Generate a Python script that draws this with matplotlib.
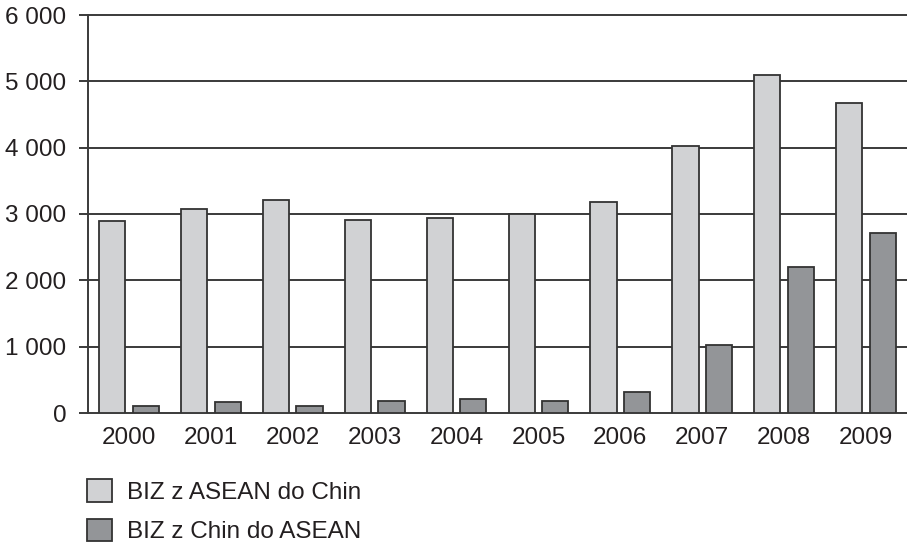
import matplotlib
matplotlib.use("Agg")
import matplotlib.pyplot as plt
import numpy as np
from matplotlib.ticker import FuncFormatter, MultipleLocator

years = ["2000", "2001", "2002", "2003", "2004", "2005", "2006", "2007", "2008", "2009"]
asean_to_china = [2900, 3075, 3215, 2905, 2935, 2995, 3180, 4025, 5095, 4680]
china_to_asean = [105, 165, 100, 175, 215, 175, 310, 1025, 2200, 2715]
labels = ["BIZ z ASEAN do Chin", "BIZ z Chin do ASEAN"]

plt.rcParams['font.family'] = ['Liberation Sans', 'DejaVu Sans']
text_color = "#231f20"
grid_color = "#3a3a3a"
fs = 17.5

fig = plt.figure(figsize=(9.07, 5.46), dpi=100)
ax = fig.add_axes([88/907, 1-413/546, 1-88/907, (413-15)/546])

x = np.arange(len(years))
w = 0.32
b1 = ax.bar(x - 0.205, asean_to_china, w, color="#d1d2d4", edgecolor="#333333", linewidth=1.3, zorder=3, label=labels[0])
b2 = ax.bar(x + 0.205, china_to_asean, w, color="#939598", edgecolor="#333333", linewidth=1.3, zorder=3, label=labels[1])

ax.set_xlim(-0.5, len(years) - 0.5)
ax.set_ylim(0, 6000)
ax.yaxis.set_major_locator(MultipleLocator(1000))
ax.yaxis.set_major_formatter(FuncFormatter(lambda v, p: f"{int(v):,}".replace(",", " ")))
for v in range(0, 6001, 1000):
    ax.axhline(v, color=grid_color, linewidth=1.4, zorder=1, clip_on=False)

for s in ["top", "right", "bottom"]:
    ax.spines[s].set_visible(False)
ax.spines["left"].set_color(grid_color)
ax.spines["left"].set_linewidth(1.4)

ax.set_xticks(x)
ax.set_xticklabels(years)
ax.tick_params(axis="x", length=0, pad=10, labelsize=fs, labelcolor=text_color)
ax.tick_params(axis="y", length=6.5, width=1.4, color=grid_color, pad=9, labelsize=fs, labelcolor=text_color)

leg = fig.legend(handles=[b1, b2], labels=labels, loc="upper left",
                 bbox_to_anchor=(80/907, 1-472/546), frameon=False,
                 fontsize=fs, handlelength=1.0, handleheight=1.05,
                 handletextpad=0.62, labelspacing=0.62, borderaxespad=0, borderpad=0.3)
for t in leg.get_texts():
    t.set_color(text_color)

fig.savefig("out.png", dpi=100)
